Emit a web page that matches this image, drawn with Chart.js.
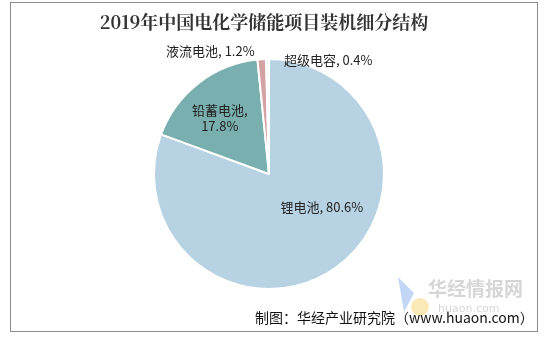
<!DOCTYPE html>
<html>
<head>
<meta charset="utf-8">
<script src="https://cdn.jsdelivr.net/npm/chart.js@4"></script>
<style>
  body { margin: 0; background: #fff; }
  #wrap { position: relative; width: 544px; height: 341px; }
  #frame { position: absolute; left: 10px; top: 2px; width: 526px; height: 328px; border: 1px solid #8c8c8c; box-sizing: content-box; }
  canvas { position: absolute; left: 0; top: 0; }
</style>
</head>
<body>
<div id="wrap">
  <div id="frame"></div>
  <canvas id="pieChart" width="544" height="341"></canvas>
</div>
<script>
// 2019年中国电化学储能项目装机细分结构
const categories = ['锂电池', '铅蓄电池', '液流电池', '超级电容'];
const shares = [80.6, 17.8, 1.2, 0.4];
const colors = ['#B7D3E3', '#7AAFAF', '#D3A3A3', '#EEF1F4'];

const titleText = '2019年中国电化学储能项目装机细分结构';
const sourceText = '制图：华经产业研究院（www.huaon.com）';

// label placement: offset from arc centroid, and how many lines
const labelOpts = [
  { dx: 20, dy: -14, split: false },
  { dx: -14, dy: -12, split: true },
  { dx: -55, dy: -66, split: false },
  { dx: 60, dy: -56, split: false }
];

const textPlugin = {
  id: 'texts',
  afterDraw(chart) {
    const ctx = chart.ctx;
    ctx.save();
    // title
    ctx.fillStyle = '#333';
    ctx.font = 'bold 18px "Noto Serif CJK SC", "Noto Sans CJK SC", serif';
    ctx.textAlign = 'center';
    ctx.textBaseline = 'middle';
    ctx.fillText(titleText, 264, 22);

    // slice labels
    ctx.font = '13px "Noto Sans CJK SC", sans-serif';
    ctx.fillStyle = '#222';
    const arcs = chart.getDatasetMeta(0).data;
    arcs.forEach((arc, i) => {
      const p = arc.tooltipPosition();
      const o = labelOpts[i];
      const x = p.x + o.dx, y = p.y + o.dy;
      if (o.split) {
        ctx.fillText(categories[i] + ',', x, y - 7);
        ctx.fillText(shares[i].toFixed(1) + '%', x, y + 9);
      } else {
        ctx.fillText(categories[i] + ', ' + shares[i].toFixed(1) + '%', x, y);
      }
    });

    // watermark
    ctx.globalAlpha = 0.55;
    ctx.fillStyle = '#8fb6ee';
    ctx.beginPath();
    ctx.moveTo(398, 277); ctx.lineTo(414, 293); ctx.lineTo(404, 312); ctx.closePath();
    ctx.fill();
    ctx.fillStyle = '#f5d77a';
    ctx.beginPath();
    ctx.arc(420, 307, 9, 0, Math.PI * 2);
    ctx.fill();
    ctx.globalAlpha = 0.4;
    ctx.fillStyle = '#999';
    ctx.font = 'bold 19px "Noto Sans CJK SC", sans-serif';
    ctx.textAlign = 'left';
    ctx.fillText('华经情报网', 428, 289);
    ctx.font = '11px "DejaVu Sans", sans-serif';
    ctx.fillText('huaon.com', 438, 309);
    ctx.globalAlpha = 1;

    // source
    ctx.fillStyle = '#111';
    ctx.font = '14px "Noto Sans CJK SC", sans-serif';
    ctx.textAlign = 'left';
    ctx.fillText(sourceText, 255, 318);
    ctx.restore();
  }
};

new Chart(document.getElementById('pieChart'), {
  type: 'pie',
  data: {
    labels: categories,
    datasets: [{
      data: shares,
      backgroundColor: colors,
      borderColor: '#ffffff',
      borderWidth: 2
    }]
  },
  options: {
    responsive: false,
    animation: false,
    layout: { padding: { top: 58, bottom: 51, left: 153, right: 159 } },
    plugins: {
      legend: { display: false },
      tooltip: { enabled: false },
      title: { display: false }
    }
  },
  plugins: [textPlugin]
});
</script>
</body>
</html>
